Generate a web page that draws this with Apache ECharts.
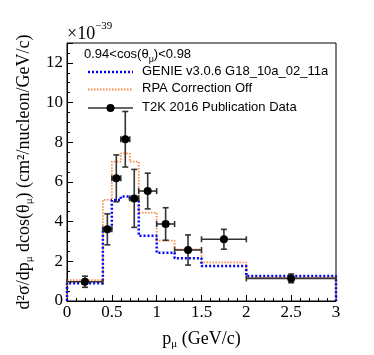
<!DOCTYPE html>
<html>
<head>
<meta charset="utf-8">
<script src="https://cdn.jsdelivr.net/npm/echarts@6/dist/echarts.min.js"></script>
<style>
  html, body { margin: 0; padding: 0; background: #fff; }
  #chart { width: 374px; height: 355px; }
</style>
</head>
<body>
<div id="chart"></div>
<script>
  // bin edges of the p_mu histogram (GeV/c)
  var binEdges = [0, 0.4, 0.5, 0.6, 0.7, 0.8, 1.0, 1.2, 1.5, 2.0, 3.0];
  // GENIE v3.0.6 G18_10a_02_11a (x1e-39)
  var genieVals = [0.9, 3.66, 5.09, 5.26, 5.1, 3.29, 2.43, 2.15, 1.76, 1.26];
  // RPA correction off
  var rpaOffVals = [1.05, 5.1, 7.02, 7.44, 7.02, 4.45, 3.04, 2.6, 1.95, 1.18];
  // T2K 2016 data points
  var t2kX = [0.2, 0.45, 0.55, 0.65, 0.75, 0.9, 1.1, 1.35, 1.75, 2.5];
  var t2kY = [0.97, 3.61, 6.18, 8.15, 5.17, 5.54, 3.88, 2.57, 3.11, 1.14];
  var t2kErr = [0.28, 0.78, 1.18, 1.4, 1.46, 0.9, 0.82, 0.76, 0.5, 0.22];
  var yTicks = [0, 2, 4, 6, 8, 10, 12];

  var serif = 'Liberation Serif';
  var sans = 'Liberation Sans';

  // histogram outline as step line
  function histLine(vals) {
    var pts = [[binEdges[0], 0]];
    for (var i = 0; i < vals.length; i++) {
      pts.push([binEdges[i], vals[i]]);
    }
    pts.push([binEdges[binEdges.length - 1], vals[vals.length - 1]]);
    pts.push([binEdges[binEdges.length - 1], 0]);
    return pts;
  }

  var dataPts = t2kX.map(function (x, i) {
    var ex = (binEdges[i + 1] - binEdges[i]) / 2;
    return [x, t2kY[i], ex, t2kErr[i]];
  });

  var titleRich = {
    t: { fontFamily: serif, fontSize: 18, color: '#000', lineHeight: 22, verticalAlign: 'middle' },
    s: { fontFamily: serif, fontSize: 11, color: '#000', lineHeight: 22, verticalAlign: 'bottom' }
  };

  var myChart = echarts.init(document.getElementById('chart'));

  var option = {
    animation: false,
    grid: {
      left: 67, right: 38, top: 43, bottom: 54,
      show: true, borderColor: '#000', borderWidth: 1
    },
    xAxis: {
      type: 'value', min: 0, max: 3, interval: 0.5,
      name: '{t|p}{s|μ}{t| (GeV/c)}',
      nameLocation: 'middle', nameGap: 27,
      nameTextStyle: { rich: titleRich },
      axisLine: { lineStyle: { color: '#000', width: 1 } },
      axisTick: { inside: true, length: 6, lineStyle: { color: '#000' } },
      minorTick: { show: true, splitNumber: 5, length: 3, lineStyle: { color: '#000' } },
      splitLine: { show: false },
      axisLabel: { fontFamily: serif, fontSize: 17, color: '#000', margin: 3 }
    },
    yAxis: {
      type: 'value', min: 0, max: 13, interval: 2,
      name: '{t|d²σ/dp}{s|μ}{t| dcos(θ}{s|μ}{t|) (cm²/nucleon/GeV/c)}',
      nameLocation: 'middle', nameGap: 31, nameRotate: 90,
      nameTextStyle: { rich: titleRich },
      axisLine: { show: true, lineStyle: { color: '#000', width: 1 } },
      axisTick: { show: true, inside: true, length: 6, lineStyle: { color: '#000' } },
      minorTick: { show: true, splitNumber: 4, length: 3, lineStyle: { color: '#000' } },
      splitLine: { show: false },
      axisLabel: {
        fontFamily: serif, fontSize: 17, color: '#000', margin: 4,
        formatter: function (v) { return yTicks.indexOf(v) >= 0 ? String(v) : ''; }
      }
    },
    graphic: [
      {
        type: 'text', left: 67, top: 21,
        style: {
          text: '{t|×10}{s|−39}',
          rich: {
            t: { fontFamily: serif, fontSize: 18, fill: '#000', lineHeight: 22, verticalAlign: 'bottom' },
            s: { fontFamily: serif, fontSize: 11, fill: '#000', lineHeight: 22, verticalAlign: 'top' }
          }
        }
      },
      {
        type: 'text', left: 84, top: 48,
        style: {
          text: '{t|0.94<cos(θ}{s|μ}{t|)<0.98}',
          rich: {
            t: { fontFamily: sans, fontSize: 13, fill: '#000', lineHeight: 19, verticalAlign: 'middle' },
            s: { fontFamily: sans, fontSize: 9, fill: '#000', lineHeight: 19, verticalAlign: 'bottom' }
          }
        }
      },
      { type: 'line', shape: { x1: 88, y1: 72, x2: 133, y2: 72 },
        style: { stroke: '#0000ff', lineWidth: 2.5, lineDash: [2, 2] } },
      { type: 'text', left: 142, top: 64.5,
        style: { text: 'GENIE v3.0.6 G18_10a_02_11a', fontFamily: sans, fontSize: 13, fill: '#000' } },
      { type: 'line', shape: { x1: 88, y1: 89.5, x2: 133, y2: 89.5 },
        style: { stroke: '#ff8844', lineWidth: 1.8, lineDash: [1.5, 1.5] } },
      { type: 'text', left: 142, top: 82,
        style: { text: 'RPA Correction Off', fontFamily: sans, fontSize: 13, fill: '#000' } },
      { type: 'line', shape: { x1: 88, y1: 108, x2: 133, y2: 108 },
        style: { stroke: '#333', lineWidth: 1.6 } },
      { type: 'circle', shape: { cx: 110.5, cy: 108, r: 4 }, style: { fill: '#000' } },
      { type: 'text', left: 142, top: 100.5,
        style: { text: 'T2K 2016 Publication Data', fontFamily: sans, fontSize: 13, fill: '#000' } }
    ],
    series: [
      {
        name: 'RPA Correction Off', type: 'line', step: 'end',
        data: histLine(rpaOffVals), showSymbol: false, z: 3,
        lineStyle: { color: '#ff8844', width: 1.8, type: [1.5, 1.5] }
      },
      {
        name: 'GENIE v3.0.6 G18_10a_02_11a', type: 'line', step: 'end',
        data: histLine(genieVals), showSymbol: false, z: 4,
        lineStyle: { color: '#0000ff', width: 2.5, type: [2, 2] }
      },
      {
        name: 'T2K 2016 Publication Data', type: 'custom', z: 5,
        data: dataPts,
        renderItem: function (params, api) {
          var x = api.value(0), y = api.value(1), ex = api.value(2), ey = api.value(3);
          var c = api.coord([x, y]);
          var l = api.coord([x - ex, y]), r = api.coord([x + ex, y]);
          var t = api.coord([x, y + ey]), b = api.coord([x, y - ey]);
          var cap = 3;
          var ls = { stroke: '#333', lineWidth: 1.6 };
          return {
            type: 'group',
            children: [
              { type: 'line', shape: { x1: l[0], y1: l[1], x2: r[0], y2: r[1] }, style: ls },
              { type: 'line', shape: { x1: t[0], y1: t[1], x2: b[0], y2: b[1] }, style: ls },
              { type: 'line', shape: { x1: l[0], y1: l[1] - cap, x2: l[0], y2: l[1] + cap }, style: ls },
              { type: 'line', shape: { x1: r[0], y1: r[1] - cap, x2: r[0], y2: r[1] + cap }, style: ls },
              { type: 'line', shape: { x1: t[0] - cap, y1: t[1], x2: t[0] + cap, y2: t[1] }, style: ls },
              { type: 'line', shape: { x1: b[0] - cap, y1: b[1], x2: b[0] + cap, y2: b[1] }, style: ls },
              { type: 'circle', shape: { cx: c[0], cy: c[1], r: 4 }, style: { fill: '#000' } }
            ]
          };
        }
      }
    ]
  };

  myChart.setOption(option);
</script>
</body>
</html>
